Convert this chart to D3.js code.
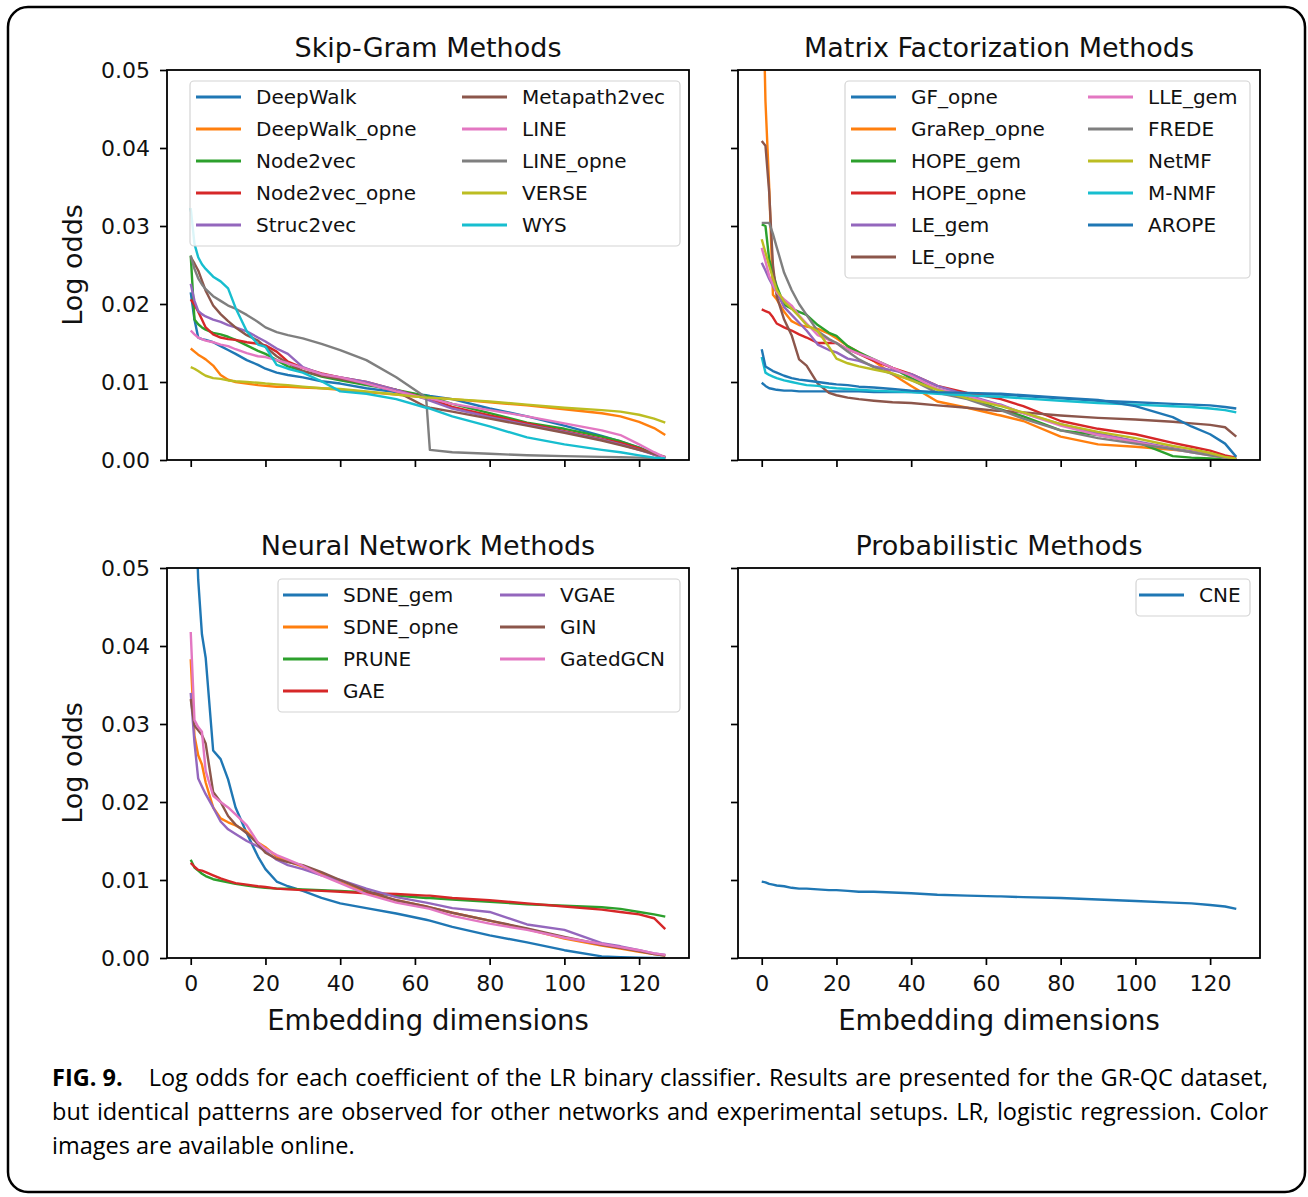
<!DOCTYPE html>
<html>
<head>
<meta charset="utf-8">
<script src="https://cdn.jsdelivr.net/npm/d3@7"></script>
<style>
body { margin: 0; background: #fff; }
svg { display: block; }
</style>
</head>
<body>
<div id="chart-area"></div>
<script>
// embedding dimension (sorted coefficient index) at which values were read
var dims = [0,1,2,3,4,6,8,10,12,15,18,20,23,26,30,35,40,47,55,63,64,70,80,90,100,110,115,120,124,127];

var xTicks = [0, 20, 40, 60, 80, 100, 120];
var yTicks = [0, 0.01, 0.02, 0.03, 0.04, 0.05];

// Skip-Gram methods
var skipNames = ["DeepWalk", "DeepWalk_opne", "Node2vec", "Node2vec_opne", "Struc2vec",
                 "Metapath2vec", "LINE", "LINE_opne", "VERSE", "WYS"];
var skipValues = [
  [0.0215,0.0180,0.0157,0.0155,0.0154,0.0151,0.0146,0.0141,0.0136,0.0128,0.0122,0.0117,0.0112,0.0109,0.0106,0.0101,0.0098,0.0092,0.0087,0.0083,0.0082,0.0078,0.0066,0.0056,0.0044,0.0031,0.0024,0.0016,0.0008,0.0003],
  [0.0143,0.0139,0.0135,0.0132,0.0129,0.0121,0.0109,0.0103,0.0100,0.0098,0.0096,0.0095,0.0094,0.0094,0.0093,0.0092,0.0090,0.0087,0.0084,0.0080,0.0080,0.0078,0.0074,0.0070,0.0065,0.0060,0.0056,0.0049,0.0041,0.0032],
  [0.0262,0.0180,0.0174,0.0170,0.0167,0.0163,0.0161,0.0158,0.0154,0.0147,0.0140,0.0136,0.0128,0.0120,0.0114,0.0107,0.0102,0.0096,0.0090,0.0082,0.0081,0.0072,0.0060,0.0048,0.0040,0.0030,0.0024,0.0016,0.0008,0.0003],
  [0.0206,0.0199,0.0190,0.0180,0.0170,0.0161,0.0157,0.0155,0.0154,0.0151,0.0149,0.0147,0.0139,0.0126,0.0118,0.0111,0.0106,0.0100,0.0090,0.0079,0.0078,0.0068,0.0057,0.0047,0.0037,0.0027,0.0022,0.0015,0.0007,0.0002],
  [0.0226,0.0204,0.0191,0.0187,0.0184,0.0180,0.0177,0.0173,0.0170,0.0165,0.0157,0.0152,0.0143,0.0136,0.0119,0.0110,0.0106,0.0100,0.0090,0.0078,0.0076,0.0066,0.0055,0.0045,0.0036,0.0026,0.0020,0.0013,0.0007,0.0003],
  [0.0260,0.0252,0.0243,0.0230,0.0217,0.0198,0.0187,0.0178,0.0170,0.0160,0.0153,0.0145,0.0133,0.0124,0.0114,0.0108,0.0104,0.0098,0.0088,0.0068,0.0067,0.0062,0.0053,0.0044,0.0035,0.0025,0.0019,0.0013,0.0008,0.0004],
  [0.0166,0.0161,0.0157,0.0155,0.0153,0.0151,0.0148,0.0146,0.0142,0.0137,0.0133,0.0132,0.0128,0.0124,0.0118,0.0110,0.0106,0.0098,0.0088,0.0079,0.0079,0.0072,0.0064,0.0056,0.0047,0.0038,0.0032,0.0020,0.0010,0.0003],
  [0.0262,0.0245,0.0233,0.0225,0.0219,0.0210,0.0204,0.0198,0.0194,0.0186,0.0177,0.0170,0.0164,0.0160,0.0156,0.0149,0.0141,0.0128,0.0106,0.0080,0.0013,0.0010,0.0008,0.0006,0.0005,0.0004,0.00035,0.0003,0.00025,0.0002],
  [0.0119,0.0117,0.0114,0.0111,0.0108,0.0105,0.0104,0.0102,0.0101,0.0100,0.0099,0.0098,0.0097,0.0096,0.0094,0.0092,0.0091,0.0088,0.0084,0.0080,0.0080,0.0078,0.0075,0.0071,0.0067,0.0064,0.0062,0.0058,0.0053,0.0048],
  [0.0323,0.0277,0.0260,0.0251,0.0245,0.0235,0.0229,0.0220,0.0195,0.0165,0.0148,0.0145,0.0122,0.0117,0.0112,0.0101,0.0088,0.0085,0.0078,0.0067,0.0066,0.0056,0.0043,0.0029,0.0020,0.0013,0.0010,0.0006,0.0003,0.0002]
];

// Matrix factorization methods
var mfNames = ["GF_opne", "GraRep_opne", "HOPE_gem", "HOPE_opne", "LE_gem", "LE_opne",
               "LLE_gem", "FREDE", "NetMF", "M-NMF", "AROPE"];
var mfValues = [
  [0.0099,0.0095,0.0092,0.0091,0.0090,0.0089,0.0089,0.0088,0.0088,0.0088,0.0088,0.0088,0.0088,0.0088,0.0087,0.0087,0.0087,0.0086,0.0085,0.0084,0.0084,0.0082,0.0079,0.0076,0.0074,0.0072,0.0071,0.0070,0.0068,0.0066],
  [0.0680,0.0460,0.0350,0.0212,0.0206,0.0190,0.0178,0.0173,0.0171,0.0168,0.0162,0.0156,0.0146,0.0138,0.0127,0.0110,0.0095,0.0075,0.0067,0.0058,0.0057,0.0050,0.0030,0.0020,0.0017,0.0013,0.0011,0.0007,0.0003,0.0001],
  [0.0302,0.0300,0.0257,0.0240,0.0223,0.0199,0.0194,0.0190,0.0186,0.0173,0.0163,0.0159,0.0146,0.0138,0.0129,0.0118,0.0105,0.0091,0.0081,0.0066,0.0065,0.0056,0.0038,0.0032,0.0024,0.0005,0.0003,0.0002,0.0001,0.0001],
  [0.0193,0.0191,0.0189,0.0183,0.0175,0.0170,0.0166,0.0161,0.0157,0.0150,0.0150,0.0150,0.0142,0.0136,0.0127,0.0118,0.0110,0.0095,0.0086,0.0079,0.0078,0.0069,0.0050,0.0040,0.0033,0.0022,0.0017,0.0012,0.0006,0.0003],
  [0.0253,0.0243,0.0232,0.0223,0.0215,0.0196,0.0186,0.0176,0.0166,0.0148,0.0141,0.0138,0.0130,0.0127,0.0120,0.0115,0.0110,0.0095,0.0083,0.0072,0.0071,0.0060,0.0046,0.0034,0.0024,0.0015,0.0011,0.0007,0.0003,0.0001],
  [0.0409,0.0403,0.0343,0.0250,0.0210,0.0180,0.0160,0.0129,0.0121,0.0098,0.0086,0.0083,0.0080,0.0078,0.0076,0.0074,0.0073,0.0070,0.0067,0.0063,0.0063,0.0061,0.0057,0.0054,0.0052,0.0049,0.0047,0.0045,0.0042,0.0030],
  [0.0272,0.0255,0.0236,0.0225,0.0215,0.0206,0.0198,0.0185,0.0175,0.0160,0.0154,0.0150,0.0142,0.0136,0.0129,0.0118,0.0108,0.0091,0.0082,0.0071,0.0070,0.0060,0.0044,0.0032,0.0023,0.0014,0.0010,0.0006,0.0003,0.0001],
  [0.0304,0.0304,0.0304,0.0290,0.0273,0.0240,0.0218,0.0200,0.0186,0.0165,0.0155,0.0150,0.0139,0.0129,0.0119,0.0110,0.0103,0.0086,0.0078,0.0065,0.0064,0.0053,0.0038,0.0028,0.0021,0.0014,0.0010,0.0006,0.0003,0.0001],
  [0.0283,0.0266,0.0249,0.0233,0.0218,0.0203,0.0194,0.0184,0.0173,0.0165,0.0145,0.0130,0.0124,0.0120,0.0116,0.0111,0.0102,0.0090,0.0079,0.0070,0.0069,0.0061,0.0046,0.0036,0.0028,0.0018,0.0014,0.0009,0.0004,0.0002],
  [0.0132,0.0112,0.0109,0.0107,0.0105,0.0102,0.0100,0.0098,0.0096,0.0095,0.0093,0.0092,0.0091,0.0090,0.0089,0.0088,0.0087,0.0085,0.0083,0.0081,0.0081,0.0079,0.0076,0.0073,0.0071,0.0069,0.0068,0.0066,0.0064,0.0061],
  [0.0142,0.0120,0.0117,0.0114,0.0112,0.0108,0.0105,0.0103,0.0102,0.0100,0.0098,0.0097,0.0096,0.0094,0.0093,0.0091,0.0089,0.0087,0.0086,0.0085,0.0085,0.0083,0.0080,0.0077,0.0069,0.0055,0.0043,0.0033,0.0021,0.0004]
];

// Neural network methods
var nnNames = ["SDNE_gem", "SDNE_opne", "PRUNE", "GAE", "VGAE", "GIN", "GatedGCN"];
var nnValues = [
  [0.0800,0.0620,0.0485,0.0415,0.0385,0.0266,0.0255,0.0229,0.0193,0.0160,0.0130,0.0114,0.0098,0.0092,0.0086,0.0077,0.0070,0.0064,0.0057,0.0049,0.0048,0.0040,0.0029,0.0020,0.0010,0.0002,0.0001,0.00005,0.0000,0.0000],
  [0.0383,0.0285,0.0260,0.0248,0.0225,0.0193,0.0179,0.0174,0.0170,0.0162,0.0148,0.0142,0.0130,0.0124,0.0117,0.0108,0.0097,0.0084,0.0074,0.0066,0.0065,0.0058,0.0048,0.0037,0.0025,0.0016,0.0012,0.0008,0.0005,0.0003],
  [0.0126,0.0116,0.0112,0.0108,0.0105,0.0101,0.0099,0.0097,0.0095,0.0093,0.0091,0.0090,0.0089,0.0089,0.0088,0.0087,0.0086,0.0084,0.0080,0.0077,0.0077,0.0075,0.0072,0.0069,0.0067,0.0065,0.0063,0.0059,0.0056,0.0053],
  [0.0122,0.0117,0.0113,0.0112,0.0110,0.0106,0.0102,0.0099,0.0096,0.0094,0.0092,0.0091,0.0089,0.0088,0.0087,0.0086,0.0085,0.0083,0.0082,0.0080,0.0080,0.0077,0.0074,0.0070,0.0066,0.0062,0.0059,0.0056,0.0051,0.0037],
  [0.0340,0.0276,0.0230,0.0220,0.0210,0.0193,0.0175,0.0165,0.0159,0.0150,0.0143,0.0137,0.0126,0.0119,0.0114,0.0106,0.0100,0.0089,0.0078,0.0071,0.0070,0.0064,0.0059,0.0043,0.0036,0.0019,0.0015,0.0010,0.0006,0.0004],
  [0.0332,0.0298,0.0292,0.0286,0.0275,0.0213,0.0200,0.0182,0.0171,0.0160,0.0146,0.0135,0.0127,0.0123,0.0119,0.0110,0.0100,0.0086,0.0074,0.0066,0.0065,0.0058,0.0048,0.0038,0.0027,0.0017,0.0013,0.0009,0.0005,0.0003],
  [0.0418,0.0305,0.0296,0.0290,0.0240,0.0208,0.0200,0.0193,0.0184,0.0170,0.0148,0.0140,0.0132,0.0126,0.0118,0.0106,0.0096,0.0082,0.0071,0.0064,0.0063,0.0054,0.0044,0.0036,0.0026,0.0018,0.0014,0.0010,0.0006,0.0004]
];

// Probabilistic methods
var probNames = ["CNE"];
var probValues = [
  [0.0098,0.0097,0.0095,0.0094,0.0093,0.0092,0.0090,0.0089,0.0089,0.0088,0.0087,0.0087,0.0086,0.0085,0.0085,0.0084,0.0083,0.0081,0.0080,0.0079,0.0079,0.0078,0.0077,0.0075,0.0073,0.0071,0.0070,0.0068,0.0066,0.0063]
];

var captionBold = "FIG. 9.";
var captionLines = [
  "Log odds for each coefficient of the LR binary classifier. Results are presented for the GR-QC dataset,",
  "but identical patterns are observed for other networks and experimental setups. LR, logistic regression. Color",
  "images are available online."
];

var W = 1308, H = 1197;
var pw = 522, ph = 390;
var font = "DejaVu Sans, sans-serif";
var colors = d3.schemeCategory10;

var svg = d3.select("#chart-area")
	.append("svg")
	.attr("width", W)
	.attr("height", H);

svg.append("rect")
	.attr("width", W).attr("height", H)
	.attr("fill", "#fff");

// rounded outer frame
svg.append("rect")
	.attr("x", 8).attr("y", 7)
	.attr("width", 1297).attr("height", 1185)
	.attr("rx", 20)
	.attr("fill", "none")
	.attr("stroke", "#000")
	.attr("stroke-width", 2.5);

var panels = [
	{id: 0, title: "Skip-Gram Methods", left: 167, top: 70, names: skipNames, values: skipValues,
	 xLabels: false, yLabels: true, rows: 5, box: [23, 513], cols: [29, 295]},
	{id: 1, title: "Matrix Factorization Methods", left: 738, top: 70, names: mfNames, values: mfValues,
	 xLabels: false, yLabels: false, rows: 6, box: [107, 512], cols: [113, 350]},
	{id: 2, title: "Neural Network Methods", left: 167, top: 568, names: nnNames, values: nnValues,
	 xLabels: true, yLabels: true, rows: 4, box: [111, 513], cols: [116, 333]},
	{id: 3, title: "Probabilistic Methods", left: 738, top: 568, names: probNames, values: probValues,
	 xLabels: true, yLabels: false, rows: 1, box: [398, 512], cols: [401]}
];

panels.forEach(function (p) {
	var g = svg.append("g")
		.attr("transform", "translate(" + p.left + "," + p.top + ")");

	var x = d3.scaleLinear().domain([-6.35, 133.35]).range([0, pw]);
	var y = d3.scaleLinear().domain([0, 0.05]).range([ph, 0]);

	g.append("clipPath")
		.attr("id", "clip" + p.id)
		.append("rect")
		.attr("width", pw)
		.attr("height", ph);

	var line = d3.line()
		.x(function (d, i) { return x(dims[i]); })
		.y(function (d) { return y(d); });

	g.append("g")
		.attr("clip-path", "url(#clip" + p.id + ")")
		.selectAll("path")
		.data(p.values)
		.enter()
		.append("path")
		.attr("d", line)
		.attr("fill", "none")
		.attr("stroke", function (d, i) { return colors[i % 10]; })
		.attr("stroke-width", 2.4)
		.attr("stroke-linejoin", "round");

	// x axis
	var xAxis = d3.axisBottom(x).tickValues(xTicks).tickSize(7).tickPadding(10);
	if (!p.xLabels) xAxis.tickFormat("");
	var xg = g.append("g")
		.attr("transform", "translate(0," + ph + ")")
		.call(xAxis);

	// y axis
	var yAxis = d3.axisLeft(y).tickValues(yTicks).tickSize(7).tickPadding(10)
		.tickFormat(d3.format(".2f"));
	if (!p.yLabels) yAxis.tickFormat("");
	var yg = g.append("g").call(yAxis);

	[xg, yg].forEach(function (a) {
		a.select(".domain").remove();
		a.selectAll("line").attr("stroke", "#000").attr("stroke-width", 1.7);
		a.selectAll("text")
			.attr("fill", "#111")
			.style("font-family", font)
			.style("font-size", "22px");
	});

	// frame
	g.append("rect")
		.attr("width", pw)
		.attr("height", ph)
		.attr("fill", "none")
		.attr("stroke", "#000")
		.attr("stroke-width", 1.8);

	// title
	g.append("text")
		.attr("x", pw / 2)
		.attr("y", -13)
		.attr("text-anchor", "middle")
		.style("font-family", font)
		.style("font-size", "27px")
		.attr("fill", "#111")
		.text(p.title);

	if (p.yLabels) {
		g.append("text")
			.attr("transform", "rotate(-90)")
			.attr("x", -ph / 2)
			.attr("y", -85)
			.attr("text-anchor", "middle")
			.style("font-family", font)
			.style("font-size", "27px")
			.attr("fill", "#111")
			.text("Log odds");
	}

	if (p.xLabels) {
		g.append("text")
			.attr("x", pw / 2)
			.attr("y", ph + 72)
			.attr("text-anchor", "middle")
			.style("font-family", font)
			.style("font-size", "27.5px")
			.attr("fill", "#111")
			.text("Embedding dimensions");
	}

	// legend
	var rowH = 32, firstRow = 27;
	var lg = g.append("g");
	lg.append("rect")
		.attr("x", p.box[0])
		.attr("y", firstRow - 16)
		.attr("width", p.box[1] - p.box[0])
		.attr("height", (p.rows - 1) * rowH + 37)
		.attr("rx", 4)
		.attr("fill", "#fff")
		.attr("fill-opacity", 0.85)
		.attr("stroke", "#d4d4d4")
		.attr("stroke-width", 1.2);

	var items = lg.selectAll(".item")
		.data(p.names)
		.enter()
		.append("g")
		.attr("class", "item")
		.attr("transform", function (d, i) {
			var c = Math.floor(i / p.rows), r = i % p.rows;
			return "translate(" + p.cols[c] + "," + (firstRow + r * rowH) + ")";
		});

	items.append("line")
		.attr("x1", 0).attr("x2", 45)
		.attr("stroke", function (d, i) { return colors[i % 10]; })
		.attr("stroke-width", 3);

	items.append("text")
		.attr("x", 60)
		.attr("dy", "0.36em")
		.style("font-family", font)
		.style("font-size", "20px")
		.attr("fill", "#111")
		.text(function (d) { return d; });
});

// caption, justified on the first two lines
var capFont = "Open Sans, Noto Sans, sans-serif";
var capSize = "23.5px";
var capLeft = 52, capRight = 1268;
var capY = [1086, 1120, 1154];

var bold = svg.append("text")
	.attr("x", capLeft)
	.attr("y", capY[0])
	.style("font-family", capFont)
	.style("font-size", capSize)
	.style("font-weight", "bold")
	.attr("fill", "#000")
	.text(captionBold);

var boldEnd = capLeft + bold.node().getComputedTextLength() + 26;

captionLines.forEach(function (t, i) {
	var x0 = i === 0 ? boldEnd : capLeft;
	var txt = svg.append("text")
		.attr("x", x0)
		.attr("y", capY[i])
		.style("font-family", capFont)
		.style("font-size", capSize)
		.attr("fill", "#000")
		.text(t);
	if (i < captionLines.length - 1) {
		var natural = txt.node().getComputedTextLength();
		var spaces = t.split(" ").length - 1;
		txt.style("word-spacing", ((capRight - x0 - natural) / spaces) + "px");
	}
});
</script>
</body>
</html>
